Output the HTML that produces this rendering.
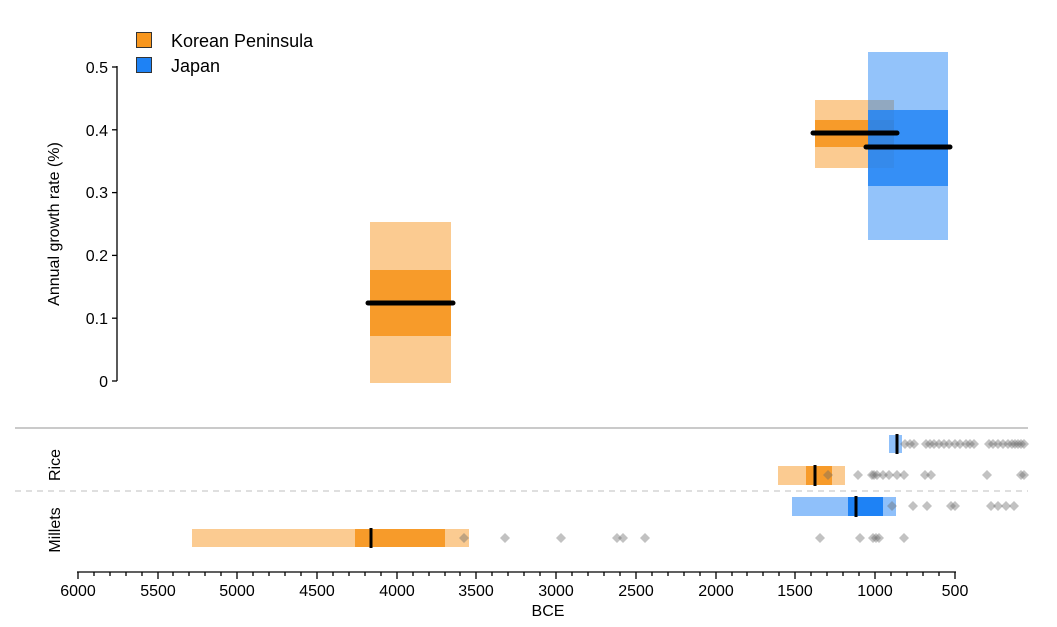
<!DOCTYPE html>
<html><head><style>body{margin:0;background:#fff}svg{display:block;font-family:"Liberation Sans",Arial,sans-serif}</style></head><body>
<svg width="1057" height="627" viewBox="0 0 1057 627">
<defs><path id="dm" d="M0,-5L5,0L0,5L-5,0Z"/></defs>
<rect x="136.5" y="32.5" width="15" height="15" fill="#f7961e" stroke="#333"/>
<rect x="136.5" y="57.5" width="15" height="15" fill="#1e82f5" stroke="#333"/>
<text x="171" y="47" font-size="18">Korean Peninsula</text>
<text x="171" y="72" font-size="18">Japan</text>
<g stroke="#000" stroke-width="1.3">
<line x1="117" y1="66" x2="117" y2="381"/>
<line x1="112" y1="67" x2="117" y2="67"/><line x1="112" y1="129.8" x2="117" y2="129.8"/><line x1="112" y1="192.6" x2="117" y2="192.6"/><line x1="112" y1="255.4" x2="117" y2="255.4"/><line x1="112" y1="318.2" x2="117" y2="318.2"/><line x1="112" y1="381" x2="117" y2="381"/>
</g>
<g font-size="16" text-anchor="end">
<text x="108" y="73">0.5</text><text x="108" y="136">0.4</text><text x="108" y="198">0.3</text><text x="108" y="261">0.2</text><text x="108" y="324">0.1</text><text x="108" y="387">0</text>
</g>
<text transform="translate(59,224) rotate(-90)" font-size="16" text-anchor="middle">Annual growth rate (%)</text>
<rect x="370" y="222" width="81" height="161" fill="#fbcb91"/>
<rect x="370" y="270" width="81" height="66" fill="#f79b2a"/>
<line x1="368" y1="303" x2="453" y2="303" stroke="#000" stroke-width="5" stroke-linecap="round"/>
<rect x="815" y="100" width="79" height="68" fill="#fbcb91"/>
<rect x="815" y="120" width="79" height="27" fill="#f79b2a"/>
<rect x="868" y="52" width="80" height="188" fill="#1e82f5" fill-opacity="0.48"/>
<rect x="868" y="110" width="80" height="76" fill="#1e82f5" fill-opacity="0.8"/>
<line x1="813" y1="133" x2="897" y2="133" stroke="#000" stroke-width="5" stroke-linecap="round"/>
<line x1="866" y1="147" x2="950" y2="147" stroke="#000" stroke-width="5" stroke-linecap="round"/>
<line x1="15" y1="428" x2="1028" y2="428" stroke="#aaa" stroke-width="1.3"/>
<line x1="15" y1="491" x2="1028" y2="491" stroke="#ccc" stroke-width="1.2" stroke-dasharray="6,5"/>
<text transform="translate(60,465) rotate(-90)" font-size="16" text-anchor="middle">Rice</text>
<text transform="translate(60,530) rotate(-90)" font-size="16" text-anchor="middle">Millets</text>
<rect x="889" y="435" width="13" height="18" fill="#8fc0fa"/>
<rect x="778" y="466" width="67" height="19" fill="#fbcb91"/>
<rect x="806" y="466" width="26" height="19" fill="#f79b2a"/>
<rect x="792" y="497" width="104" height="19" fill="#8fc0fa"/>
<rect x="848" y="497" width="35" height="19" fill="#1e82f5"/>
<rect x="192" y="529" width="277" height="18" fill="#fbcb91"/>
<rect x="355" y="529" width="90" height="18" fill="#f79b2a"/>
<g fill="#666" fill-opacity="0.4">
<g transform="translate(0,444)">
<use href="#dm" x="905"/><use href="#dm" x="910"/><use href="#dm" x="914"/>
<use href="#dm" x="926"/><use href="#dm" x="930"/><use href="#dm" x="934"/><use href="#dm" x="939"/><use href="#dm" x="944"/><use href="#dm" x="949"/><use href="#dm" x="955"/><use href="#dm" x="960"/><use href="#dm" x="966"/><use href="#dm" x="970"/><use href="#dm" x="974"/>
<use href="#dm" x="989"/><use href="#dm" x="993"/><use href="#dm" x="998"/><use href="#dm" x="1003"/><use href="#dm" x="1008"/><use href="#dm" x="1012"/><use href="#dm" x="1015"/><use href="#dm" x="1018"/><use href="#dm" x="1021"/><use href="#dm" x="1024"/>
</g>
<g transform="translate(0,475)">
<use href="#dm" x="828"/><use href="#dm" x="858"/><use href="#dm" x="872"/><use href="#dm" x="874"/><use href="#dm" x="877"/><use href="#dm" x="883"/><use href="#dm" x="889"/><use href="#dm" x="897"/><use href="#dm" x="904"/><use href="#dm" x="925"/><use href="#dm" x="931"/><use href="#dm" x="987"/><use href="#dm" x="1021"/><use href="#dm" x="1024"/>
</g>
<g transform="translate(0,506)">
<use href="#dm" x="892"/><use href="#dm" x="913"/><use href="#dm" x="927"/><use href="#dm" x="951"/><use href="#dm" x="955"/><use href="#dm" x="991"/><use href="#dm" x="998"/><use href="#dm" x="1006"/><use href="#dm" x="1014"/>
</g>
<g transform="translate(0,538)">
<use href="#dm" x="464"/><use href="#dm" x="505"/><use href="#dm" x="561"/><use href="#dm" x="617"/><use href="#dm" x="623"/><use href="#dm" x="645"/><use href="#dm" x="820"/><use href="#dm" x="860"/><use href="#dm" x="873"/><use href="#dm" x="876"/><use href="#dm" x="879"/><use href="#dm" x="904"/>
</g>
</g>
<g stroke="#000" stroke-width="3">
<line x1="897" y1="434" x2="897" y2="454"/>
<line x1="815" y1="465" x2="815" y2="486"/>
<line x1="856" y1="496" x2="856" y2="517"/>
<line x1="371" y1="528" x2="371" y2="548"/>
</g>
<g stroke="#000" stroke-width="1.3">
<line x1="77" y1="572" x2="956" y2="572"/>
<path d="M78,572v7M94,572v4M110,572v4M126,572v4M142,572v4M158,572v7M173,572v4M189,572v4M205,572v4M221,572v4M237,572v7M253,572v4M269,572v4M285,572v4M301,572v4M317,572v7M333,572v4M349,572v4M365,572v4M381,572v4M397,572v7M413,572v4M429,572v4M445,572v4M460,572v4M476,572v7M492,572v4M508,572v4M524,572v4M540,572v4M556,572v7M572,572v4M588,572v4M604,572v4M620,572v4M636,572v7M652,572v4M668,572v4M684,572v4M700,572v4M716,572v7M732,572v4M747,572v4M763,572v4M779,572v4M795,572v7M811,572v4M827,572v4M843,572v4M859,572v4M875,572v7M891,572v4M907,572v4M923,572v4M939,572v4M955,572v7"/>
</g>
<g font-size="16" text-anchor="middle">
<text x="78" y="596">6000</text><text x="158" y="596">5500</text><text x="237" y="596">5000</text><text x="317" y="596">4500</text><text x="397" y="596">4000</text><text x="476" y="596">3500</text><text x="556" y="596">3000</text><text x="636" y="596">2500</text><text x="716" y="596">2000</text><text x="795" y="596">1500</text><text x="875" y="596">1000</text><text x="955" y="596">500</text>
</g>
<text x="548" y="616" font-size="16" text-anchor="middle">BCE</text>
</svg>
</body></html>
